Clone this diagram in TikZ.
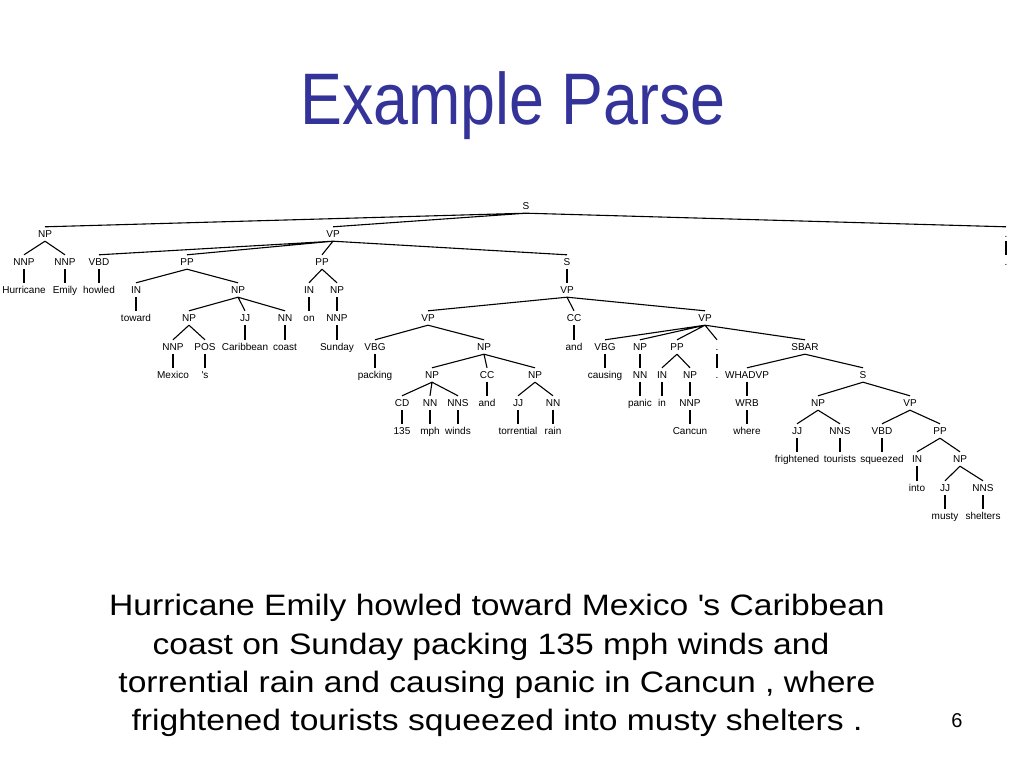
\documentclass[tikz,border=0pt]{standalone}
\usepackage{fontspec}
\setmainfont{Liberation Sans}
\newfontfamily\titlefont[FakeStretch=0.86]{Liberation Sans}
\newfontfamily\capfont[FakeStretch=1.14]{Liberation Sans}
\usepackage{tikz}
\definecolor{titleblue}{RGB}{51,51,153}

\begin{document}
\begin{tikzpicture}[
	x=1pt, y=-1pt,
	tag/.style={inner xsep=1pt, inner ysep=3.5pt, text height=7pt, text depth=0pt, font=\fontsize{10}{12}\selectfont},
	branch/.style={line width=1.1pt},
	title/.style={anchor=base, text=titleblue, font=\titlefont\fontsize{73}{80}\selectfont},
	sent/.style={anchor=base, font=\capfont\fontsize{29.5}{36}\selectfont}
	]
	\useasboundingbox (0,0) rectangle (1024,768);
	
	\node[title] (title) at (513,124) {Example Parse};
	
	% parse tree
	\node[tag] (s) at (526,206) {S};
	
	\node[tag] (np) at (45,234) {NP};
	\node[tag] (vp) at (333,234) {VP};
	\node[tag] (stop) at (1006,234) {.};
	
	\node[tag] (nnpa) at (24,262) {NNP};
	\node[tag] (nnpb) at (65,262) {NNP};
	\node[tag] (vbd) at (99,262) {VBD};
	\node[tag] (ppa) at (187,262) {PP};
	\node[tag] (ppb) at (322,262) {PP};
	\node[tag] (sb) at (567,262) {S};
	\node[tag] (stopw) at (1006,262) {.};
	
	\node[tag] (hurricane) at (24,290) {Hurricane};
	\node[tag] (emily) at (65,290) {Emily};
	\node[tag] (howled) at (99,290) {howled};
	\node[tag] (ina) at (136,290) {IN};
	\node[tag] (npa) at (238,290) {NP};
	\node[tag] (inb) at (309,290) {IN};
	\node[tag] (npb) at (337,290) {NP};
	\node[tag] (vpa) at (567,290) {VP};
	
	\node[tag] (toward) at (136,318) {toward};
	\node[tag] (npc) at (189,318) {NP};
	\node[tag] (jja) at (245,318) {JJ};
	\node[tag] (nna) at (285,318) {NN};
	\node[tag] (onw) at (309,318) {on};
	\node[tag] (nnpc) at (337,318) {NNP};
	\node[tag] (vpb) at (428,318) {VP};
	\node[tag] (cca) at (574,318) {CC};
	\node[tag] (vpc) at (705,318) {VP};
	
	\node[tag] (nnpd) at (173,347) {NNP};
	\node[tag] (pos) at (205,347) {POS};
	\node[tag] (caribbean) at (245,347) {Caribbean};
	\node[tag] (coast) at (285,347) {coast};
	\node[tag] (sunday) at (337,347) {Sunday};
	\node[tag] (vbga) at (375,347) {VBG};
	\node[tag] (npd) at (484,347) {NP};
	\node[tag] (anda) at (574,347) {and};
	\node[tag] (vbgb) at (605,347) {VBG};
	\node[tag] (npe) at (640,347) {NP};
	\node[tag] (ppc) at (677,347) {PP};
	\node[tag] (comma) at (717,347) {.};
	\node[tag] (sbar) at (805,347) {SBAR};
	
	\node[tag] (mexico) at (173,375) {Mexico};
	\node[tag] (poss) at (205,375) {\textquotesingle s};
	\node[tag] (packing) at (375,375) {packing};
	\node[tag] (npf) at (432,375) {NP};
	\node[tag] (ccb) at (487,375) {CC};
	\node[tag] (npg) at (535,375) {NP};
	\node[tag] (causing) at (605,375) {causing};
	\node[tag] (nnb) at (640,375) {NN};
	\node[tag] (inc) at (662,375) {IN};
	\node[tag] (nph) at (690,375) {NP};
	\node[tag] (commaw) at (717,375) {.};
	\node[tag] (whadvp) at (747,375) {WHADVP};
	\node[tag] (sc) at (863,375) {S};
	
	\node[tag] (cd) at (402,403) {CD};
	\node[tag] (nnc) at (430,403) {NN};
	\node[tag] (nnsa) at (458,403) {NNS};
	\node[tag] (andb) at (487,403) {and};
	\node[tag] (jjb) at (518,403) {JJ};
	\node[tag] (nnd) at (553,403) {NN};
	\node[tag] (panic) at (640,403) {panic};
	\node[tag] (inw) at (662,403) {in};
	\node[tag] (nnpe) at (690,403) {NNP};
	\node[tag] (wrb) at (747,403) {WRB};
	\node[tag] (npi) at (818,403) {NP};
	\node[tag] (vpd) at (910,403) {VP};
	
	\node[tag] (num) at (402,431) {135};
	\node[tag] (mph) at (430,431) {mph};
	\node[tag] (winds) at (458,431) {winds};
	\node[tag] (torrential) at (518,431) {torrential};
	\node[tag] (rain) at (553,431) {rain};
	\node[tag] (cancun) at (690,431) {Cancun};
	\node[tag] (where) at (747,431) {where};
	\node[tag] (jjc) at (797,431) {JJ};
	\node[tag] (nnsb) at (840,431) {NNS};
	\node[tag] (vbdb) at (882,431) {VBD};
	\node[tag] (ppd) at (940,431) {PP};
	
	\node[tag] (frightened) at (797,459) {frightened};
	\node[tag] (tourists) at (840,459) {tourists};
	\node[tag] (squeezed) at (882,459) {squeezed};
	\node[tag] (ind) at (917,459) {IN};
	\node[tag] (npj) at (960,459) {NP};
	
	\node[tag] (into) at (917,488) {into};
	\node[tag] (jjd) at (945,488) {JJ};
	\node[tag] (nnsc) at (983,488) {NNS};
	
	\node[tag] (musty) at (945,516) {musty};
	\node[tag] (shelters) at (983,516) {shelters};
	
	% branches
	\draw[branch] (s.south) -- (np.north) (s.south) -- (vp.north) (s.south) -- (stop.north);
	\draw[branch] (stop.south) -- (stopw.north);
	\draw[branch] (np.south) -- (nnpa.north) (np.south) -- (nnpb.north);
	\draw[branch] (nnpa.south) -- (hurricane.north) (nnpb.south) -- (emily.north);
	\draw[branch] (vp.south) -- (vbd.north) (vp.south) -- (ppa.north) (vp.south) -- (ppb.north) (vp.south) -- (sb.north);
	\draw[branch] (vbd.south) -- (howled.north);
	\draw[branch] (ppa.south) -- (ina.north) (ppa.south) -- (npa.north);
	\draw[branch] (ina.south) -- (toward.north);
	\draw[branch] (npa.south) -- (npc.north) (npa.south) -- (jja.north) (npa.south) -- (nna.north);
	\draw[branch] (npc.south) -- (nnpd.north) (npc.south) -- (pos.north);
	\draw[branch] (nnpd.south) -- (mexico.north) (pos.south) -- (poss.north);
	\draw[branch] (jja.south) -- (caribbean.north) (nna.south) -- (coast.north);
	\draw[branch] (ppb.south) -- (inb.north) (ppb.south) -- (npb.north);
	\draw[branch] (inb.south) -- (onw.north) (npb.south) -- (nnpc.north) (nnpc.south) -- (sunday.north);
	\draw[branch] (sb.south) -- (vpa.north);
	\draw[branch] (vpa.south) -- (vpb.north) (vpa.south) -- (cca.north) (vpa.south) -- (vpc.north);
	\draw[branch] (cca.south) -- (anda.north);
	\draw[branch] (vpb.south) -- (vbga.north) (vpb.south) -- (npd.north);
	\draw[branch] (vbga.south) -- (packing.north);
	\draw[branch] (npd.south) -- (npf.north) (npd.south) -- (ccb.north) (npd.south) -- (npg.north);
	\draw[branch] (npf.south) -- (cd.north) (npf.south) -- (nnc.north) (npf.south) -- (nnsa.north);
	\draw[branch] (cd.south) -- (num.north) (nnc.south) -- (mph.north) (nnsa.south) -- (winds.north);
	\draw[branch] (ccb.south) -- (andb.north);
	\draw[branch] (npg.south) -- (jjb.north) (npg.south) -- (nnd.north);
	\draw[branch] (jjb.south) -- (torrential.north) (nnd.south) -- (rain.north);
	\draw[branch] (vpc.south) -- (vbgb.north) (vpc.south) -- (npe.north) (vpc.south) -- (ppc.north) (vpc.south) -- (comma.north) (vpc.south) -- (sbar.north);
	\draw[branch] (vbgb.south) -- (causing.north);
	\draw[branch] (npe.south) -- (nnb.north) (nnb.south) -- (panic.north);
	\draw[branch] (ppc.south) -- (inc.north) (ppc.south) -- (nph.north);
	\draw[branch] (inc.south) -- (inw.north) (nph.south) -- (nnpe.north) (nnpe.south) -- (cancun.north);
	\draw[branch] (comma.south) -- (commaw.north);
	\draw[branch] (sbar.south) -- (whadvp.north) (sbar.south) -- (sc.north);
	\draw[branch] (whadvp.south) -- (wrb.north) (wrb.south) -- (where.north);
	\draw[branch] (sc.south) -- (npi.north) (sc.south) -- (vpd.north);
	\draw[branch] (npi.south) -- (jjc.north) (npi.south) -- (nnsb.north);
	\draw[branch] (jjc.south) -- (frightened.north) (nnsb.south) -- (tourists.north);
	\draw[branch] (vpd.south) -- (vbdb.north) (vpd.south) -- (ppd.north);
	\draw[branch] (vbdb.south) -- (squeezed.north);
	\draw[branch] (ppd.south) -- (ind.north) (ppd.south) -- (npj.north);
	\draw[branch] (ind.south) -- (into.north);
	\draw[branch] (npj.south) -- (jjd.north) (npj.south) -- (nnsc.north);
	\draw[branch] (jjd.south) -- (musty.north) (nnsc.south) -- (shelters.north);
	
	% sentence
	\node[sent] (line1) at (497,615) {Hurricane Emily howled toward Mexico \textquotesingle s Caribbean};
	\node[sent] (line2) at (491,654) {coast on Sunday packing 135 mph winds and};
	\node[sent] (line3) at (497,692) {torrential rain and causing panic in Cancun , where};
	\node[sent] (line4) at (497,730) {frightened tourists squeezed into musty shelters .};
	
	\node[anchor=base, font=\fontsize{20}{24}\selectfont] (pagenum) at (957,727) {6};
\end{tikzpicture}
\end{document}
